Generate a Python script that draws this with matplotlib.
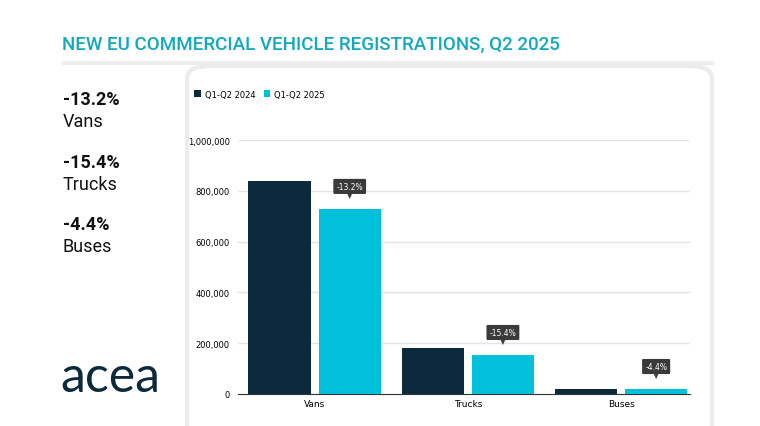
import matplotlib
matplotlib.use("Agg")
import matplotlib.pyplot as plt
from matplotlib.patches import FancyBboxPatch
from matplotlib.ticker import FuncFormatter
import numpy as np

categories = ["Vans", "Trucks", "Buses"]
series_names = ["Q1-Q2 2024", "Q1-Q2 2025"]
values_2024 = [838000, 181000, 20000]
values_2025 = [728000, 153000, 19000]
changes = ["-13.2%", "-15.4%", "-4.4%"]

navy = "#0b2a3c"
cyan = "#00c0da"
teal = "#12a8bd"

fig = plt.figure(figsize=(7.6, 4.27), dpi=100)
fig.patch.set_facecolor("white")

card = FancyBboxPatch((187/760, -0.05), (712-187)/760, (427-67)/427 + 0.05,
                      boxstyle="round,pad=0,rounding_size=0.03",
                      transform=fig.transFigure, facecolor="white",
                      edgecolor="#ececec", linewidth=3, zorder=0)
fig.add_artist(card)

fig.text(62/760, 1-45/427, "NEW EU COMMERCIAL VEHICLE REGISTRATIONS, Q2 2025",
         color=teal, fontsize=13.5, fontfamily="Roboto", fontweight="medium",
         va="center", ha="left")
fig.add_artist(plt.Line2D([64/760, 712/760], [1-64/427, 1-64/427],
                          transform=fig.transFigure, color="#ececec", lw=3))

ys = [100, 163, 225]
for y, ch, cat in zip(ys, changes, categories):
    fig.text(63/760, 1-y/427, ch, fontsize=13, fontweight="bold", color="#111111",
             fontfamily="Roboto", va="center")
    fig.text(63/760, 1-(y+22)/427, cat, fontsize=13, color="#111111",
             fontfamily="Roboto", va="center")

fig.text(60/760, 1-378/427, "acea", fontsize=36, color=navy, fontfamily="Lato",
         va="center", ha="left")

ax = fig.add_axes([238/760, 1-395/427, (690-238)/760, (395-141)/427])
x = np.arange(len(categories))
off = 0.229
w = 0.405
ax.bar(x-off, values_2024, w, color=navy, label=series_names[0], zorder=3)
ax.bar(x+off, values_2025, w, color=cyan, label=series_names[1], zorder=3)
ax.set_xlim(-0.5, 2.45)
ax.set_ylim(0, 1000000)
ax.set_yticks([0, 200000, 400000, 600000, 800000, 1000000])
ax.yaxis.set_major_formatter(FuncFormatter(lambda v, p: f"{int(v):,}"))
ax.grid(axis="y", color="#e3e3e3", lw=1, zorder=0)
for s in ["top", "right", "left"]:
    ax.spines[s].set_visible(False)
ax.spines["bottom"].set_color("#333333")
ax.tick_params(axis="y", length=0, labelsize=6, pad=6)
ax.tick_params(axis="x", length=0, labelsize=6.5)
ax.set_xticks(x)
ax.set_xticklabels(categories)

for xi, v, ch in zip(x, values_2025, changes):
    ax.annotate(ch, xy=(xi+off, v + 40000), xytext=(0, 9), textcoords="offset points",
                ha="center", va="center", fontsize=5.5, color="white",
                bbox=dict(boxstyle="round,pad=0.4,rounding_size=0.15", fc="#3a3a3a", ec="none"),
                arrowprops=dict(arrowstyle="wedge,tail_width=0.6", color="#3a3a3a", lw=0,
                                shrinkA=0, shrinkB=0),
                zorder=5)

leg = ax.legend(loc="lower left", bbox_to_anchor=(-0.105, 1.15), ncol=2, frameon=False,
                fontsize=6, handlelength=0.8, handleheight=0.8, columnspacing=1.0,
                handletextpad=0.5, borderaxespad=0)

fig.savefig("out.png", dpi=100)
